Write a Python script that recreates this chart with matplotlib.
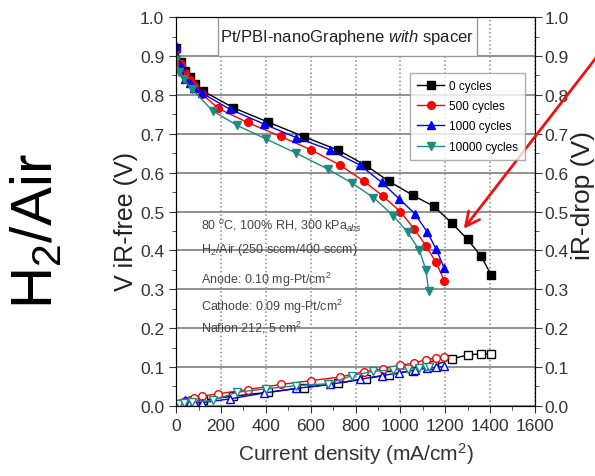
# PEMFC polarization curve, Pt/PBI-nanoGraphene with spacer

import matplotlib.pyplot as plt
from matplotlib.patches import Rectangle
from matplotlib.ticker import MultipleLocator

series_names = ["0 cycles", "500 cycles", "1000 cycles", "10000 cycles"]
series_colors = ["#000000", "#ff0000", "#0000ff", "#1e8a80"]
series_markers = ["s", "o", "^", "v"]

# cell voltage, iR-free
j_0 = [0, 20, 40, 60, 85, 120, 255, 410, 572, 722, 845, 948, 1055, 1150, 1230, 1300, 1360, 1405]
v_0 = [0.92, 0.885, 0.862, 0.845, 0.828, 0.81, 0.767, 0.73, 0.692, 0.658, 0.619, 0.578, 0.542, 0.513, 0.47, 0.428, 0.385, 0.337]
j_500 = [0, 20, 40, 60, 80, 114, 188, 319, 467, 600, 729, 837, 924, 999, 1062, 1114, 1159, 1196]
v_500 = [0.915, 0.88, 0.855, 0.838, 0.822, 0.803, 0.765, 0.729, 0.693, 0.659, 0.62, 0.578, 0.539, 0.50, 0.455, 0.412, 0.369, 0.322]
j_1000 = [0, 20, 40, 60, 80, 114, 240, 392, 536, 684, 818, 917, 996, 1065, 1121, 1159, 1196]
v_1000 = [0.925, 0.875, 0.84, 0.83, 0.818, 0.805, 0.763, 0.725, 0.69, 0.659, 0.62, 0.575, 0.532, 0.494, 0.446, 0.404, 0.354]
j_10000 = [0, 15, 35, 70, 163, 270, 403, 536, 677, 785, 880, 969, 1033, 1084, 1114, 1126]
v_10000 = [0.89, 0.86, 0.84, 0.815, 0.759, 0.722, 0.686, 0.65, 0.609, 0.573, 0.536, 0.489, 0.446, 0.401, 0.35, 0.296]

# iR-drop
ir_0 = [0.003, 0.006, 0.008, 0.01, 0.012, 0.015, 0.025, 0.035, 0.047, 0.058, 0.07, 0.08, 0.091, 0.104, 0.121, 0.131, 0.134, 0.134]
ir_500 = [0.004, 0.008, 0.012, 0.015, 0.02, 0.025, 0.031, 0.042, 0.055, 0.065, 0.074, 0.088, 0.095, 0.105, 0.11, 0.119, 0.123, 0.125]
ir_1000 = [0.003, 0.006, 0.014, 0.01, 0.009, 0.008, 0.018, 0.033, 0.045, 0.055, 0.068, 0.078, 0.085, 0.092, 0.097, 0.099, 0.102]
ir_10000 = [0.004, 0.006, 0.008, 0.01, 0.014, 0.035, 0.044, 0.052, 0.057, 0.078, 0.089, 0.093, 0.095, 0.097, 0.099, 0.1]

conditions = [
    "80 $^o$C, 100% RH, 300 kPa$_{abs}$",
    "H$_2$/Air (250 sccm/400 sccm)",
    "Anode: 0.10 mg-Pt/cm$^2$",
    "Cathode: 0.09 mg-Pt/cm$^2$",
    "Nafion 212, 5 cm$^2$",
]
cond_y = [0.463, 0.404, 0.326, 0.258, 0.203]

currents = [j_0, j_500, j_1000, j_10000]
volts = [v_0, v_500, v_1000, v_10000]
drops = [ir_0, ir_500, ir_1000, ir_10000]

plt.rcParams['font.family'] = 'Liberation Sans'
plt.rcParams['mathtext.fontset'] = 'custom'
plt.rcParams['mathtext.rm'] = 'Liberation Sans'
plt.rcParams['mathtext.it'] = 'Liberation Sans:italic'

fig = plt.figure(figsize=(5.95, 4.77), dpi=100)
ax = fig.add_axes([0.296, 0.147, 0.603, 0.815])

for j, v, name, c, m in zip(currents, volts, series_names, series_colors, series_markers):
    ax.plot(j, v, color=c, marker=m, markersize=5.5, lw=1, label=name, zorder=3)

for j, d, c, m in zip(currents, drops, series_colors, series_markers):
    ax.plot(j, d, color=c, marker=m, markersize=5.5, lw=1, mfc='white', mec=c, zorder=3)

ax.set_xlim(0, 1600)
ax.set_ylim(0, 1.0)
ax.xaxis.set_major_locator(MultipleLocator(200))
ax.xaxis.set_minor_locator(MultipleLocator(100))
ax.yaxis.set_major_locator(MultipleLocator(0.1))
ax.yaxis.set_minor_locator(MultipleLocator(0.05))
ax.tick_params(which='both', direction='out', labelsize=12.5, colors='#333333')
ax.tick_params(which='major', length=5)
ax.tick_params(which='minor', length=3)
ax.yaxis.set_major_formatter(plt.FuncFormatter(lambda v, p: f"{v:.1f}"))

ax.grid(axis='y', color='#888888', lw=1.3, ls='-')
ax.grid(axis='x', color='#888888', lw=1.1, ls=':')
ax.set_axisbelow(True)

ax.set_xlabel("Current density (mA/cm$^2$)", fontsize=15, color='#333333', labelpad=5)
ax.set_ylabel("V iR-free (V)", fontsize=18, color='#222222')
ax.yaxis.set_label_coords(-0.106, 0.476)

ax2 = ax.twinx()
ax2.set_ylim(0, 1.0)
ax2.yaxis.set_major_locator(MultipleLocator(0.1))
ax2.yaxis.set_minor_locator(MultipleLocator(0.05))
ax2.tick_params(which='both', direction='out', labelsize=12.5, colors='#333333', pad=2)
ax2.tick_params(which='major', length=5)
ax2.tick_params(which='minor', length=3)
ax2.yaxis.set_major_formatter(plt.FuncFormatter(lambda v, p: f"{v:.1f}"))
ax2.set_ylabel("iR-drop (V)", fontsize=19, color='#222222')
ax2.yaxis.set_label_coords(1.1, 0.545)

# header box, drawn on the twin so it hides the grid
ax2.add_patch(Rectangle((187, 0.9), 1155, 0.1, facecolor='white', edgecolor='#999999', lw=1, zorder=2))
ax2.text(764, 0.95, "Pt/PBI-nanoGraphene $\\mathit{with}$ spacer", ha='center', va='center',
         fontsize=12, color='#222222', zorder=4)

for t, y in zip(conditions, cond_y):
    ax.text(110, y, t, fontsize=9, color='#444444', va='center', zorder=4)

handles, labels = ax.get_legend_handles_labels()
leg = ax2.legend(handles, labels, loc='upper left', bbox_to_anchor=(0.636, 0.872), fontsize=8.5,
                 frameon=True, fancybox=False, edgecolor='#999999', handlelength=2.3,
                 borderpad=0.6, labelspacing=0.7, handletextpad=0.4)
leg.get_frame().set_linewidth(1)
leg.set_zorder(5)

ax2.annotate("", xy=(1275, 0.45), xycoords='data', xytext=(1.01, 0.89), textcoords='figure fraction',
             arrowprops=dict(arrowstyle='->', color='#ee1111', lw=2, mutation_scale=25),
             annotation_clip=False)

fig.text(0.062, 0.516, "H$_2$/Air", rotation=90, fontsize=42, ha='center', va='center')

fig.savefig("out.png", dpi=100)
